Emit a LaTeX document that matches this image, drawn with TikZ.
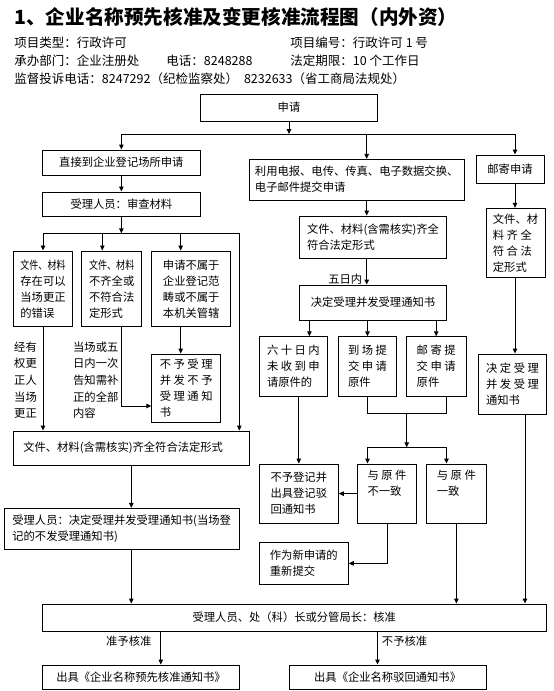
\documentclass[tikz,border=0pt]{standalone}
\usepackage{fontspec}
\setmainfont{Noto Sans CJK SC}
\usetikzlibrary{arrows.meta,positioning,calc}
\newcommand\sqz[1]{\scalebox{0.8}[1]{#1}}

\begin{document}
\begin{tikzpicture}[x=1pt, y=-1pt, line width=0.9pt,
  >={Triangle[length=5pt,width=4.5pt]},
  box/.style 2 args={draw, align=left, inner sep=0pt, minimum width=#1, minimum height=#2, font=\fontsize{11.3}{16}\selectfont},
  lbl/.style={align=left, inner sep=0pt, font=\fontsize{11.3}{16.7}\selectfont},
  info/.style={anchor=west, inner sep=0pt, font=\fontsize{12.5}{15}\selectfont}]
\useasboundingbox (0,0) rectangle (554,691);

\node[anchor=west, inner sep=0pt, font=\bfseries\fontsize{19.6}{22}\selectfont] (title) at (14,17) {1、企业名称预先核准及变更核准流程图（内外资）};
\node[info] (type) at (14,42.4) {项目类型：行政许可};
\node[info] (num) at (290,42.4) {项目编号：行政许可 1 号};
\node[info] (dept) at (14,60.8) {承办部门：企业注册处};
\node[info] (tel) at (166,60.8) {电话：8248288};
\node[info] (limit) at (290,60.8) {法定期限：10 个工作日};
\node[info] (compl) at (14,78.5) {监督投诉电话：8247292（纪检监察处）\hspace{6pt}8232633（省工商局法规处）};

\node[box={177pt}{27pt}] (sq) at (289,107.5) {申请};
\node[box={157.3pt}{25pt}] (zj) at (121.35,162.5) {直接到企业登记场所申请};
\node[box={157.3pt}{24.7pt}] (sc) at (121.35,204.3) {受理人员：审查材料};
\node[box={214.7pt}{40.7pt}] (ly) at (356.65,179.65) {利用电报、电传、传真、电子数据交换、\\电子邮件提交申请};
\node[box={68pt}{28.3pt}] (yj) at (510,169.15) {邮寄申请};

\coordinate (j0) at (289,134);
\coordinate (j1) at (zj.north |- j0);
\coordinate (j2) at (366.7,134);
\coordinate (j3) at (515,134);
\draw[->] (sq) -- (j0);
\draw (j1) -- (j3);
\draw[->] (j1) -- (zj);
\draw[->] (j2) -- (j2 |- ly.north);
\draw[->] (j3) -- (j3 |- yj.north);
\draw[->] (zj) -- (sc);

\node[box={59.4pt}{75.7pt}] (fa) at (43,288.8) {\sqz{文件、材料}\\存在可以\\当场更正\\的错误};
\node[box={60pt}{75.7pt}] (fb) at (111.7,288.8) {\sqz{文件、材料}\\不齐全或\\不符合法\\定形式};
\node[box={79pt}{75.7pt}] (fc) at (191.2,288.8) {申请不属于\\企业登记范\\畴或不属于\\本机关管辖};
\node[box={69pt}{68.7pt}] (fd) at (186.2,388.35) {不 予 受 理\\并 发 不 予\\受 理 通 知\\书};
\node[box={236pt}{34pt}, text width=216pt] (fe) at (131.3,448) {文件、材料(含需核实)齐全符合法定形式};
\node[box={235.3pt}{41pt}] (ff) at (121.65,528.8) {受理人员：决定受理并发受理通知书(当场登\\记的不发受理通知书)};
\node[lbl] (corr) at (25.5,380.3) {经有\\权更\\正人\\当场\\更正};
\node[lbl, anchor=west] (tell) at (72.7,380.3) {当场或五\\日内一次\\告知需补\\正的全部\\内容};

\coordinate (k1) at (fa.north |- 0,233.3);
\coordinate (k2) at (102.3,233.3);
\coordinate (k3) at (180.7,233.3);
\coordinate (k4) at (239.3,233.3);
\coordinate (k5) at (121.7,406);
\draw[->] (sc) -- (sc.south |- k1);
\draw (k1) -- (k4);
\draw[->] (k1) -- (fa);
\draw[->] (k2) -- (k2 |- fb.north);
\draw[->] (k3) -- (k3 |- fc.north);
\draw[->] (k4) -- (k4 |- fe.north);
\draw[->] (fc.south -| k3) -- (k3 |- fd.north);
\draw[->] (fb.south -| k5) -- (k5) -- (k5 -| fd.west);
\draw[->] (fa) -- (fa.south |- fe.north);
\draw[->] (fe) -- (fe.south |- ff.north);

\node[box={147.4pt}{42.3pt}] (cl) at (373,237.15) {文件、材料(含需核实)齐全\\符合法定形式};
\node[box={147.4pt}{35pt}] (jd) at (373,302.5) {决定受理并发受理通知书};
\node[box={68.2pt}{59.8pt}] (fg) at (293.4,366.6) {六 十 日 内\\未 收 到 申\\请原件的};
\node[box={58.4pt}{59.8pt}] (fh) at (367.5,366.6) {到 场 提\\交 申 请\\原件};
\node[box={59.7pt}{59.8pt}] (fi) at (436.2,366.6) {邮 寄 提\\交 申 请\\原件};
\node[box={79pt}{59.3pt}] (fm) at (298.8,493.65) {不予登记并\\出具登记驳\\回通知书};
\node[box={59.4pt}{59.3pt}] (fk) at (387,493.65) {与 原 件\\不一致\\\strut};
\node[box={59.3pt}{59.3pt}] (fl) at (456.35,493.65) {与 原 件\\一致\\\strut};
\node[box={89pt}{41.3pt}] (fn) at (303.8,563.35) {作为新申请的\\重新提交};

\draw[->] (ly.south -| j2) -- (j2 |- cl.north);
\draw[->] (cl.south -| j2) -- node[lbl, pos=0.78, left=4pt] {五日内} (j2 |- jd.north);
\draw[->] ([xshift=16pt]fg.north |- jd.south) -- ([xshift=16pt]fg.north);
\draw[->] (jd.south -| fh) -- (fh);
\draw[->] (jd.south -| fi) -- (fi);
\draw[->] (fg.south -| fm) -- (fm);

\coordinate (jn) at (406.7,413.5);
\coordinate (jr) at (446.5,413.5);
\coordinate (jm) at (406.7,447.3);
\draw (fh.south) |- (jr) -- (jr |- fi.south);
\draw[->] (jn) -- (jm);
\draw[->] (jm) -| (fh.south |- fk.north);
\draw[->] (jm) -| (jr |- fl.north);
\draw[->] (fk.west) -- (fk.west -| fm.east);
\draw[->] (fk.south) |- (fn.east);

\node[box={59pt}{69pt}] (ym) at (515.5,242.8) {文件、材\\料 齐 全\\符 合 法\\定形式};
\node[box={68.4pt}{60pt}] (fj) at (512.5,384) {决 定 受 理\\并 发 受 理\\通知书};
\draw[->] (yj.south -| j3) -- (j3 |- ym.north);
\draw[->] (ym.south -| j3) -- (j3 |- fj.north);

\node[box={503.8pt}{27.3pt}] (hz) at (294.3,617.65) {受理人员、处（科）长或分管局长：核准};
\node[box={197.3pt}{24pt}] (fp) at (141,677) {出具《企业名称预先核准通知书》};
\node[box={196.8pt}{24pt}] (fq) at (387.6,677) {出具《企业名称驳回通知书》};
\draw[->] (ff.south -| fe.south) -- (fe.south |- hz.north);
\draw[->] (fl.south) -- (fl.south |- hz.north);
\draw[->] ([xshift=12.5pt]fj.south) -- ([xshift=12.5pt]fj.south |- hz.north);
\draw[->] ([xshift=19.8pt]fp.north |- hz.south) -- node[lbl, pos=0.3, left=9pt] {准予核准} ([xshift=19.8pt]fp.north);
\draw[->] ([xshift=-10.1pt]fq.north |- hz.south) -- node[lbl, pos=0.3, right=4pt] {不予核准} ([xshift=-10.1pt]fq.north);
\end{tikzpicture}
\end{document}
